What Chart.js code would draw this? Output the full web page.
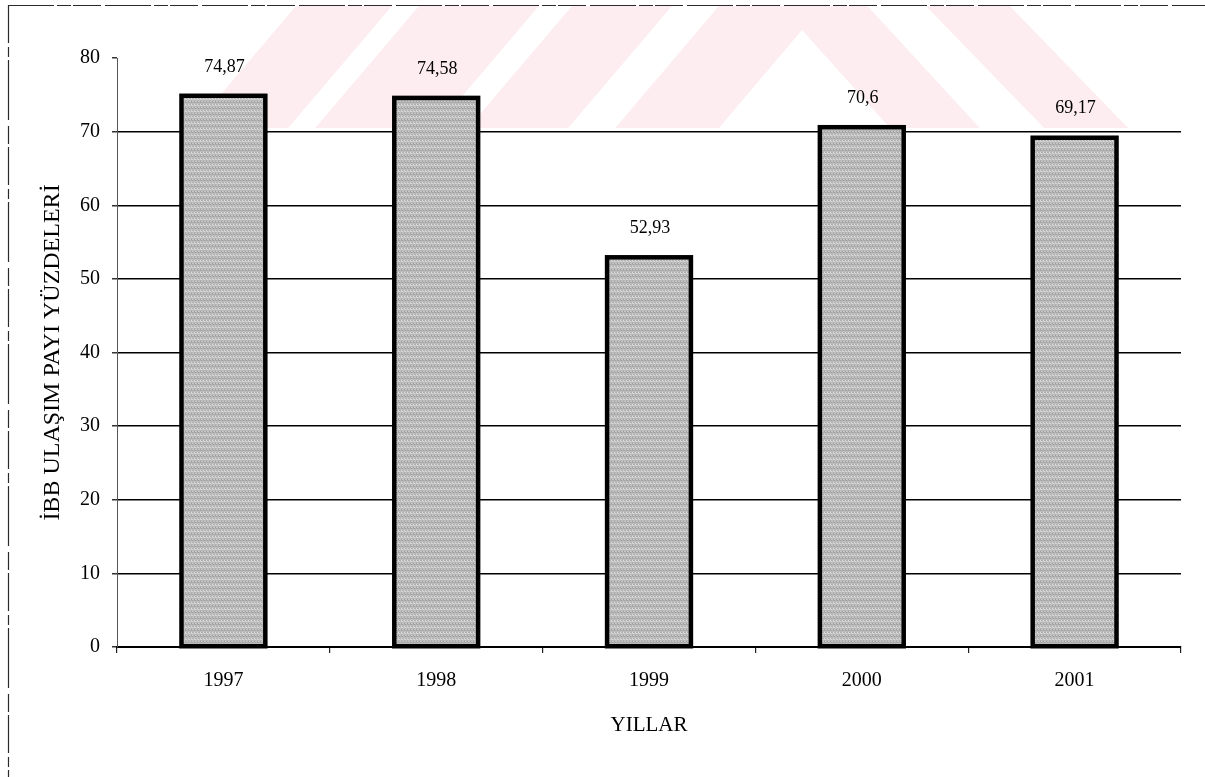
<!DOCTYPE html>
<html>
<head>
<meta charset="utf-8">
<script src="https://cdn.jsdelivr.net/npm/chart.js@4.4.1/dist/chart.umd.min.js"></script>
<style>
  html, body { margin: 0; padding: 0; background: #ffffff; }
  #wrap { width: 1205px; height: 777px; }
</style>
</head>
<body>
<div id="wrap"><canvas id="c" width="1205" height="777"></canvas></div>
<script>
// Years on the category axis
const years = ['1997', '1998', '1999', '2000', '2001'];
// İBB transport share percentages per year
const shares = [74.87, 74.58, 52.93, 70.6, 69.17];
// Value axis ticks
const yTicks = [0, 10, 20, 30, 40, 50, 60, 70, 80];

const SERIF = '"Liberation Serif", "Times New Roman", serif';

// Stippled grey fill for the columns
function makeStipple() {
  const p = document.createElement('canvas');
  p.width = 6; p.height = 6;
  const g = p.getContext('2d');
  const shades = [160, 204, 180, 220, 172, 192];
  for (let y = 0; y < 6; y++) {
    for (let x = 0; x < 6; x++) {
      const v = shades[(x * 2 + y * 5 + ((x * y) % 3)) % 6];
      g.fillStyle = `rgb(${v},${v},${v})`;
      g.fillRect(x, y, 1, 1);
    }
  }
  return p;
}

// Faint diagonal pink bands in the upper page area and dashed page frame
const pageDecor = {
  id: 'pageDecor',
  beforeDraw(chart) {
    const ctx = chart.ctx;
    ctx.save();
    ctx.beginPath();
    ctx.rect(0, 6, 1205, 122);
    ctx.clip();
    ctx.fillStyle = 'rgb(253,237,240)';
    const Y = 128;
    const sl = 0.85, sr = 0.97;
    const polys = [
      [[301, 0], [397, 0], [397 - sl * Y, Y], [301 - sl * Y, Y]],
      [[424, 0], [544, 0], [544 - sl * Y, Y], [424 - sl * Y, Y]],
      [[577, 0], [677, 0], [677 - sl * Y, Y], [577 - sl * Y, Y]],
      [[920, 0], [1004, 0], [1004 + sr * Y, Y], [920 + sr * Y, Y]],
      [[724, 0], [862, 0], [862 + 0.92 * Y, Y], [890, Y], [802, 30], [719, Y], [724 - sl * Y, Y]]
    ];
    polys.forEach(pts => {
      ctx.beginPath();
      pts.forEach((pt, i) => i ? ctx.lineTo(pt[0], pt[1]) : ctx.moveTo(pt[0], pt[1]));
      ctx.closePath();
      ctx.fill();
    });
    ctx.restore();
  },
  afterDraw(chart) {
    const ctx = chart.ctx;
    ctx.save();
    ctx.strokeStyle = '#2a2a2a';
    ctx.lineWidth = 1.2;
    ctx.setLineDash([46, 3, 14, 2, 28, 4]);
    ctx.beginPath();
    ctx.moveTo(8, 5.5);
    ctx.lineTo(1205, 5.5);
    ctx.stroke();
    ctx.setLineDash([38, 4, 10, 3, 60, 6, 18, 3]);
    ctx.beginPath();
    ctx.moveTo(8.5, 5);
    ctx.lineTo(8.5, 777);
    ctx.stroke();
    ctx.restore();
  }
};

// Heavy outline centred on each column edge, then the value written above it
const barOutline = {
  id: 'barOutline',
  afterDatasetsDraw(chart) {
    const ctx = chart.ctx;
    const meta = chart.getDatasetMeta(0);
    ctx.save();
    ctx.strokeStyle = '#000';
    ctx.lineWidth = 4.5;
    ctx.lineJoin = 'miter';
    meta.data.forEach(bar => {
      const w = bar.width;
      ctx.strokeRect(bar.x - w / 2, bar.y, w, bar.base - bar.y);
    });
    ctx.font = '18px ' + SERIF;
    ctx.fillStyle = '#000';
    ctx.textAlign = 'center';
    ctx.textBaseline = 'middle';
    meta.data.forEach((bar, i) => {
      const txt = String(shares[i]).replace('.', ',');
      ctx.fillText(txt, bar.x + 1, bar.y - 29);
    });
    ctx.restore();
  }
};

const stipple = makeStipple();
const ctx = document.getElementById('c').getContext('2d');
const fillPattern = ctx.createPattern(stipple, 'repeat');

new Chart(ctx, {
  type: 'bar',
  data: {
    labels: years,
    datasets: [{
      data: shares,
      backgroundColor: fillPattern,
      borderWidth: 0,
      barPercentage: 0.394,
      categoryPercentage: 1.0
    }]
  },
  options: {
    responsive: false,
    animation: false,
    events: [],
    layout: { padding: { top: 58, right: 24, left: 0, bottom: 0 } },
    plugins: {
      legend: { display: false },
      tooltip: { enabled: false }
    },
    scales: {
      x: {
        offset: true,
        afterFit(scale) { scale.height = 130; },
        grid: {
          offset: true,
          drawOnChartArea: false,
          drawTicks: true,
          tickLength: 6,
          tickColor: '#222',
          lineWidth: 1.2
        },
        border: { display: true, color: '#000', width: 2 },
        ticks: {
          color: '#000',
          font: { family: SERIF, size: 20 },
          padding: 16
        },
        title: {
          display: true,
          text: 'YILLAR',
          color: '#000',
          font: { family: SERIF, size: 21 },
          padding: { top: 0, bottom: 39 }
        }
      },
      y: {
        min: 0,
        max: 80,
        afterFit(scale) { scale.width = 117; },
        afterBuildTicks(scale) { scale.ticks = yTicks.map(v => ({ value: v })); },
        grid: {
          color: c => (c.tick && (c.tick.value === 80 || c.tick.value === 0)) ? 'rgba(0,0,0,0)' : '#000',
          tickColor: '#333',
          lineWidth: 1.5,
          tickLength: 5,
          drawTicks: true
        },
        border: { display: true, color: '#555', width: 1 },
        ticks: {
          color: '#000',
          font: { family: SERIF, size: 20 },
          padding: 12
        },
        title: {
          display: true,
          text: 'İBB ULAŞIM PAYI YÜZDELERİ',
          color: '#000',
          font: { family: SERIF, size: 24 },
          padding: { top: 38, bottom: 0 }
        }
      }
    }
  },
  plugins: [pageDecor, barOutline]
});
</script>
</body>
</html>
